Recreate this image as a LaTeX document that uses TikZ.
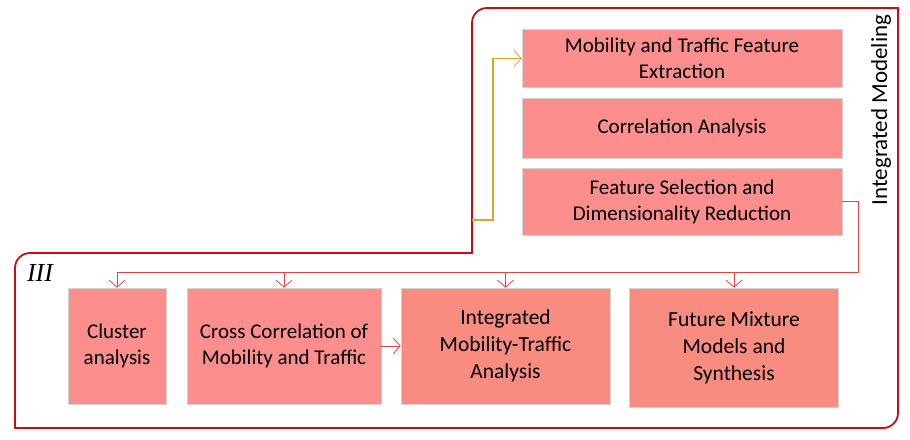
\documentclass[tikz,border=0pt]{standalone}
\usepackage{fontspec}
\setmainfont{Carlito}
\newfontfamily\romanfont{Liberation Serif}
\usepackage{xcolor}
\usetikzlibrary{arrows.meta}

\definecolor{boxpink}{RGB}{252,142,142}
\definecolor{boxsalmon}{RGB}{248,140,128}
\definecolor{framered}{RGB}{196,16,20}
\definecolor{linkred}{RGB}{222,70,70}
\definecolor{goldline}{RGB}{218,165,40}

\begin{document}
\begin{tikzpicture}[x=1pt, y=-1pt,
	stage/.style={draw=gray!35, line width=0.6pt, fill=boxpink, align=center, inner sep=2pt,
		font=\fontsize{21}{26}\selectfont},
	synth/.style={fill=boxsalmon, font=\fontsize{21.5}{27}\selectfont},
	link/.style={draw=linkred, line width=0.8pt},
	tip/.style={-{Straight Barb[length=7pt, width=16pt, line width=0.8pt]}}]
	\useasboundingbox (0, 0) rectangle (910, 439);
	
	% outer frame
	\draw[framered, line width=1.8pt] (472, 253) -- (472, 23) arc[start angle=180, end angle=270, radius=15] -- (898, 8) -- (898, 413) arc[start angle=0, end angle=90, radius=15] -- (15, 428) -- (15, 268) arc[start angle=180, end angle=270, radius=15] -- cycle;
	
	\begin{scope}[every node/.style={stage}]
		\node[minimum width=320, minimum height=58] (mtfe) at (682, 58.5) {Mobility and Traffic Feature\\Extraction};
		\node[minimum width=320, minimum height=60] (corr) at (682, 128) {Correlation Analysis};
		\node[minimum width=320, minimum height=67] (fsel) at (682, 201.5) {Feature Selection and\\Dimensionality Reduction};
		
		\node[minimum width=98, minimum height=116] (clus) at (117, 346) {Cluster\\analysis};
		\node[minimum width=194, minimum height=116] (xcorr) at (284, 346) {Cross Correlation of\\Mobility and Traffic};
		\node[minimum width=209, minimum height=116, synth] (imta) at (505.5, 346) {Integrated\\Mobility-Traffic\\Analysis};
		\node[minimum width=209, minimum height=119, synth] (fmms) at (734, 347.5) {Future Mixture\\Models and\\Synthesis};
	\end{scope}
	
	\node[rotate=90, font=\fontsize{23}{26}\selectfont] (intmod) at (881, 110) {Integrated Modeling};
	\node[font=\romanfont\itshape\fontsize{26}{26}\selectfont] (three) at (40, 273) {III};
	
	% links
	\coordinate (goldin) at (472, 220);
	\coordinate (goldup) at (493, 220);
	\draw[draw=goldline, line width=1.4pt, tip] (goldin) -- (goldup) |- (mtfe.west);
	
	\coordinate (busR) at (858, 272);
	\coordinate (busL) at (117, 272);
	\draw[link] (fsel.east) -| (busR) -- (busL);
	\draw[link, tip] (busL) -- (clus.north);
	\draw[link, tip] (xcorr.north |- busL) -- (xcorr.north);
	\draw[link, tip] (imta.north |- busL) -- (imta.north);
	\draw[link, tip] (fmms.north |- busL) -- (fmms.north);
	\draw[link, tip] (xcorr.east) -- (imta.west);
\end{tikzpicture}
\end{document}
